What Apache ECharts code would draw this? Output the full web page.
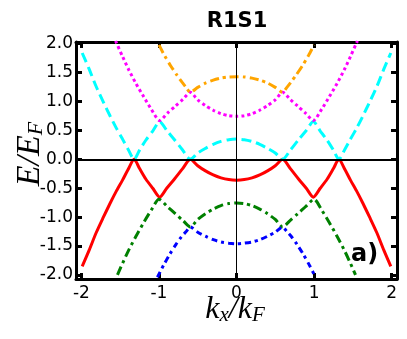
<!DOCTYPE html>
<html>
<head>
<meta charset="utf-8">
<script src="https://cdn.jsdelivr.net/npm/echarts@6/dist/echarts.min.js"></script>
<style>
  html, body { margin: 0; padding: 0; background: #fff; }
  #chart { width: 407px; height: 339px; }
</style>
</head>
<body>
<div id="chart"></div>
<script>
// tick positions
const kTicks = [-2, -1, 0, 1, 2]
const eTicks = [-2, -1.5, -1, -0.5, 0, 0.5, 1, 1.5, 2]

// bands, [k_x/k_F, E/E_F]
const cyanBand = [
    [-1.99, 1.84], [-1.90, 1.56], [-1.81, 1.26], [-1.72, 1.0], [-1.63, 0.75], [-1.55, 0.54], [-1.47, 0.35], [-1.40, 0.18], [-1.32, 0],
    [-1.25, 0.16], [-1.17, 0.33], [-1.08, 0.49], [-0.99, 0.655], [-0.90, 0.50], [-0.80, 0.34], [-0.70, 0.17], [-0.595, 0],
    [-0.5, 0.11], [-0.4, 0.19], [-0.3, 0.26], [-0.2, 0.31], [-0.1, 0.34], [0, 0.35],
    [0.1, 0.34], [0.2, 0.31], [0.3, 0.26], [0.4, 0.19], [0.5, 0.11],
    [0.595, 0], [0.70, 0.17], [0.80, 0.34], [0.90, 0.50], [0.99, 0.655], [1.08, 0.49], [1.17, 0.33], [1.25, 0.16], [1.32, 0],
    [1.40, 0.18], [1.47, 0.35], [1.55, 0.54], [1.63, 0.75], [1.72, 1.0], [1.81, 1.26], [1.90, 1.56], [1.99, 1.84],
]
const redBand = [
    [-1.99, -1.85], [-1.90, -1.57], [-1.81, -1.27], [-1.72, -1.01], [-1.63, -0.76], [-1.55, -0.55], [-1.47, -0.36], [-1.40, -0.18], [-1.32, 0],
    [-1.25, -0.16], [-1.17, -0.34], [-1.08, -0.50], [-0.99, -0.655], [-0.90, -0.50], [-0.80, -0.34], [-0.70, -0.17], [-0.595, 0],
    [-0.5, -0.11], [-0.4, -0.20], [-0.3, -0.27], [-0.2, -0.32], [-0.1, -0.35], [0, -0.36],
    [0.1, -0.35], [0.2, -0.32], [0.3, -0.27], [0.4, -0.20], [0.5, -0.11],
    [0.595, 0], [0.70, -0.17], [0.80, -0.34], [0.90, -0.50], [0.99, -0.655], [1.08, -0.50], [1.17, -0.34], [1.25, -0.16], [1.32, 0],
    [1.40, -0.18], [1.47, -0.36], [1.55, -0.55], [1.63, -0.76], [1.72, -1.01], [1.81, -1.27], [1.90, -1.57], [1.99, -1.85],
]
const magentaBand = [
    [-1.56, 2.05], [-1.47, 1.78], [-1.39, 1.55], [-1.30, 1.32], [-1.20, 1.09], [-1.10, 0.87], [-0.99, 0.67],
    [-0.89, 0.80], [-0.79, 0.92], [-0.69, 1.04], [-0.595, 1.16],
    [-0.5, 1.03], [-0.4, 0.93], [-0.3, 0.85], [-0.2, 0.79], [-0.1, 0.755], [0, 0.745],
    [0.1, 0.755], [0.2, 0.79], [0.3, 0.85], [0.4, 0.93], [0.5, 1.03],
    [0.595, 1.16], [0.69, 1.04], [0.79, 0.92], [0.89, 0.80], [0.99, 0.67],
    [1.10, 0.87], [1.20, 1.09], [1.30, 1.32], [1.39, 1.55], [1.47, 1.78], [1.56, 2.05],
]
const greenBand = [
    [-1.535, -2.0], [-1.47, -1.80], [-1.39, -1.57], [-1.30, -1.34], [-1.20, -1.10], [-1.10, -0.88], [-1.0, -0.69],
    [-0.89, -0.82], [-0.79, -0.94], [-0.69, -1.06], [-0.595, -1.17],
    [-0.5, -1.04], [-0.4, -0.94], [-0.3, -0.86], [-0.2, -0.80], [-0.1, -0.765], [0, -0.755],
    [0.1, -0.765], [0.2, -0.80], [0.3, -0.86], [0.4, -0.94], [0.5, -1.04],
    [0.595, -1.17], [0.69, -1.06], [0.79, -0.94], [0.89, -0.82], [1.0, -0.69],
    [1.10, -0.88], [1.20, -1.10], [1.30, -1.34], [1.39, -1.57], [1.47, -1.80], [1.535, -2.0],
]
const orangeBand = [
    [-1.0, 1.98], [-0.93, 1.80], [-0.85, 1.62], [-0.77, 1.46], [-0.70, 1.33], [-0.65, 1.245], [-0.595, 1.16],
    [-0.5, 1.245], [-0.4, 1.32], [-0.3, 1.37], [-0.2, 1.405], [-0.1, 1.425], [0, 1.43],
    [0.1, 1.425], [0.2, 1.405], [0.3, 1.37], [0.4, 1.32], [0.5, 1.245],
    [0.595, 1.16], [0.65, 1.245], [0.70, 1.33], [0.77, 1.46], [0.85, 1.62], [0.93, 1.80], [1.0, 1.98],
]
const blueBand = [
    [-1.02, -2.04], [-0.94, -1.83], [-0.86, -1.64], [-0.78, -1.47], [-0.71, -1.34], [-0.65, -1.25], [-0.595, -1.17],
    [-0.5, -1.26], [-0.4, -1.33], [-0.3, -1.39], [-0.2, -1.43], [-0.1, -1.45], [0, -1.46],
    [0.1, -1.45], [0.2, -1.43], [0.3, -1.39], [0.4, -1.33], [0.5, -1.26],
    [0.595, -1.17], [0.65, -1.25], [0.71, -1.34], [0.78, -1.47], [0.86, -1.64], [0.94, -1.83], [1.02, -2.04],
]

const kRange = [-2.07, 2.07]
const eRange = [-2.07, 2.03]

const chart = echarts.init(document.getElementById("chart"))

const spine = { show: true, onZero: false, lineStyle: { color: "#000", width: 3 } }
const labelFont = { fontFamily: "DejaVu Sans", fontSize: 17, color: "#000" }
const mathFont = "Liberation Serif"

function xAxisOf(position, withLabels) {
    return {
        type: "value",
        position: position,
        min: kRange[0],
        max: kRange[1],
        axisLine: spine,
        axisTick: { show: true, inside: true, length: 6, lineStyle: { color: "#000", width: 3 }, customValues: kTicks },
        axisLabel: { show: withLabels, margin: 6, customValues: kTicks, formatter: v => String(Math.round(v)), ...labelFont },
        splitLine: { show: false },
    }
}

function yAxisOf(position, withLabels) {
    return {
        type: "value",
        position: position,
        min: eRange[0],
        max: eRange[1],
        axisLine: spine,
        axisTick: { show: true, inside: true, length: 6, lineStyle: { color: "#000", width: 3 }, customValues: eTicks },
        axisLabel: { show: withLabels, margin: 3, customValues: eTicks, formatter: v => Number(v).toFixed(1), ...labelFont },
        splitLine: { show: false },
    }
}

function band(data, color, type) {
    return {
        type: "line",
        data: data,
        symbol: "none",
        smooth: 0.25,
        z: 3,
        clip: true,
        lineStyle: { color: color, width: 3, type: type, cap: "butt" },
    }
}

chart.setOption({
    animation: false,
    grid: { left: 76, right: 10, top: 42, bottom: 60 },
    xAxis: [xAxisOf("bottom", true), xAxisOf("top", false)],
    yAxis: [yAxisOf("left", true), yAxisOf("right", false)],
    series: [
        {
            type: "line",
            data: [],
            z: 1,
            markLine: {
                silent: true,
                symbol: "none",
                label: { show: false },
                animation: false,
                data: [
                    { yAxis: 0, lineStyle: { color: "#000", width: 2, type: "solid" } },
                    { xAxis: 0, lineStyle: { color: "#000", width: 1, type: "solid" } },
                ],
            },
        },
        band(redBand, "#ff0000", "solid"),
        band(greenBand, "#008000", [9, 4, 3, 4]),
        band(blueBand, "#0000ff", [6, 4, 3, 4]),
        band(cyanBand, "#00ffff", [10, 5]),
        band(magentaBand, "#ff00ff", [3, 3]),
        band(orangeBand, "#ffa500", [9, 4, 3, 4]),
    ],
    graphic: [
        {
            type: "text",
            x: 237,
            y: 22,
            style: { text: "R1S1", font: "bold 21px DejaVu Sans", fill: "#000", align: "center", verticalAlign: "middle" },
        },
        {
            type: "text",
            x: 351,
            y: 255,
            z: 10,
            style: { text: "a)", font: "bold 24px DejaVu Sans", fill: "#000", align: "left", verticalAlign: "middle" },
        },
        {
            type: "text",
            x: 235,
            y: 310,
            style: {
                text: "{m|k}{s|x}{m|/k}{s|F}",
                align: "center",
                verticalAlign: "middle",
                fill: "#000",
                rich: {
                    m: { fontFamily: mathFont, fontStyle: "italic", fontSize: 32, lineHeight: 32, verticalAlign: "bottom" },
                    s: { fontFamily: mathFont, fontStyle: "italic", fontSize: 21, lineHeight: 14, verticalAlign: "bottom" },
                },
            },
        },
        {
            type: "text",
            x: 30,
            y: 154,
            rotation: Math.PI / 2,
            style: {
                text: "{m|E/E}{s|F}",
                align: "center",
                verticalAlign: "middle",
                fill: "#000",
                rich: {
                    m: { fontFamily: mathFont, fontStyle: "italic", fontSize: 34, lineHeight: 34, verticalAlign: "bottom" },
                    s: { fontFamily: mathFont, fontStyle: "italic", fontSize: 22, lineHeight: 14, verticalAlign: "bottom" },
                },
            },
        },
    ],
})
</script>
</body>
</html>
